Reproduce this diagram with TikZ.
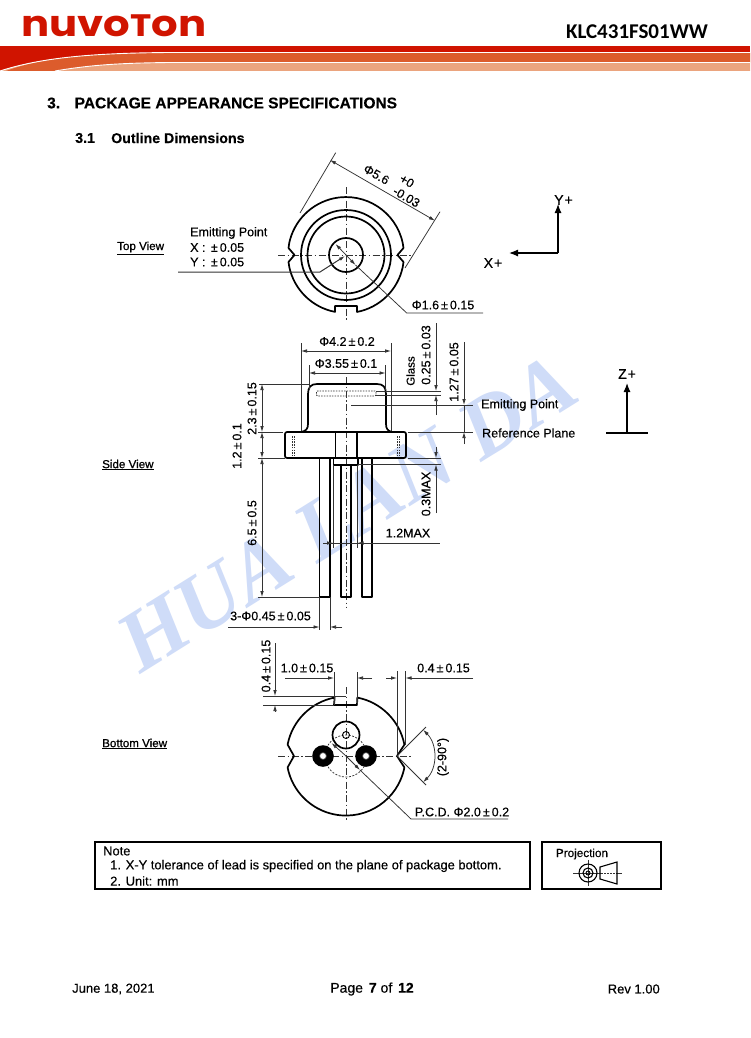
\documentclass[tikz,border=0pt]{standalone}
\usepackage{fontspec}
\setmainfont{Liberation Sans}[RawFeature={embolden=0.35}]
\newfontfamily\viewfont{Liberation Sans}[RawFeature={embolden=0.9}]
\newfontfamily\logofont{Poppins}[BoldFont=Poppins Bold]
\newfontfamily\headfont{Carlito}
\newfontfamily\wmfont{Liberation Serif}
\usetikzlibrary{arrows.meta}
\definecolor{nred}{HTML}{D01400}
\definecolor{norange}{HTML}{DC5C2C}
\definecolor{nlight}{HTML}{EBA47E}
\definecolor{wmblue}{HTML}{CFDCF8}
\definecolor{thinc}{HTML}{333333}
\newcommand{\pmx}{\kern2pt±\kern2pt}
\newcommand{\fsz}[2]{\fontsize{#1}{#2}\selectfont}
\tikzset{
  x=1pt,y=-1pt,
  tip/.style={-{Latex[length=6pt,width=3.6pt]}},
  bothtip/.style={{Latex[length=6pt,width=3.6pt]}-{Latex[length=6pt,width=3.6pt]}},
  bold/.style={draw=black,line width=1.7pt,line join=round},
  thinl/.style={draw=thinc,line width=0.75pt},
  centerl/.style={draw=thinc,line width=0.8pt,dash pattern=on 7pt off 2.5pt on 1.5pt off 2.5pt},
  dotl/.style={draw=thinc,line width=0.9pt,dash pattern=on 1.5pt off 1.2pt},
  lab/.style={inner sep=0pt,font=\fsz{12.5}{14},text=black},
  labl/.style={lab,anchor=west},
  view/.style={labl,font=\viewfont\fsz{11.6}{13}},
  axis/.style={draw=black,line width=1.2pt},
  axtip/.style={-{Latex[length=9pt,width=7pt]}},
}
\begin{document}
\begin{tikzpicture}
\useasboundingbox (0,0) rectangle (750,1038);
\fill[white] (0,0) rectangle (750,1038);
% watermark
\node (wm) [inner sep=0pt,rotate=32,text=wmblue,font=\wmfont\fsz{86}{90}\bfseries\itshape] at (347,513) {HUA LAN DA};
% header
\node (logo) [inner sep=0pt,anchor=west,text=nred,font=\logofont\fsz{36}{36}\bfseries,xscale=1.16] at (21,26) {nuvo{\fsz{31}{31}T}on};
\node (part) [inner sep=0pt,anchor=east,font=\headfont\fsz{21}{24}\bfseries] at (708,32) {KLC431FS01WW};
\fill[nred] (0,46) rectangle (750,71);
\fill[nlight] (0,71) .. controls (40,58) and (90,53) .. (170,53) -- (750,53) -- (750,71) -- cycle;
\fill[norange] (6,71) .. controls (40,58) and (90,53) .. (170,53) -- (750,53) -- (750,62.5) -- (170,62.5) .. controls (120,63) and (90,65) .. (55,71) -- cycle;
\draw[white,line width=0.9pt] (0,71) .. controls (40,58) and (90,53) .. (170,52.5) -- (750,52.5);
\draw[white,line width=0.9pt] (55,71) .. controls (90,65) and (120,63) .. (170,62.5) -- (750,62.5);
\fill[white] (0,71) rectangle (750,74);
% headings
\node (h3n) [labl,font=\fsz{15.5}{18}\bfseries] at (47,103) {3.};
\node (h3) [labl,font=\fsz{15.5}{18}\bfseries] at (74.5,103) {PACKAGE APPEARANCE SPECIFICATIONS};
\node (h31n) [labl,font=\fsz{14.2}{16}\bfseries] at (75,138) {3.1};
\node (h31) [labl,font=\fsz{14.2}{16}\bfseries] at (111,138) {Outline Dimensions};
\node (tv) [view] at (117,248) {\underline{Top View}};
\node (sv) [view] at (102,465) {\underline{Side View}};
\node (bv) [view] at (102,744) {\underline{Bottom View}};
% ---------- top view
\draw[centerl] (278,255) -- (413,255);
\draw[centerl] (346,187) -- (346,322);
\draw[bold] (346,255)++(79:58) arc[start angle=79,end angle=12,radius=58]
  -- (403.5,262) -- (397.5,255) -- (403.5,248) -- (402.7,243)
  arc[start angle=-12,end angle=-168,radius=58]
  -- (288.5,248) -- (294.5,255) -- (288.5,262) -- (289.3,267)
  arc[start angle=168,end angle=101,radius=58]
  -- (335,306) -- (357,306) -- cycle;
\draw[bold] (346,255) circle[radius=45];
\draw[bold] (346,255) circle[radius=38.5];
\draw[bold] (346,255) circle[radius=17];
% phi 5.6
\draw[thinl] (335.7,152.7) -- (300,213);
\draw[thinl] (440,211.7) -- (405,268);
\draw[thinl,bothtip] (330,160) -- (435,220.7);
\node (d56) [lab,rotate=-30] at (376.5,174.5) {Φ5.6};
\node (d56a) [lab,rotate=-30] at (407,181) {+0};
\node (d56b) [lab,rotate=-30] at (406.5,197) {-0.03};
% emitting point note
\node (ep0) [labl] at (190,233) {Emitting Point};
\node (ep1) [labl] at (190,247.5) {X : \pmx0.05};
\node (ep2) [labl] at (190,262) {Y : \pmx0.05};
\draw[thinl,line width=1pt,tip] (178,272) -- (320,272) -- (345,256);
% phi 1.6
\coordinate (l16a) at (335.5,244);
\coordinate (l16b) at (406.7,313);
\draw[thinl,tip] (346,255) -- (l16a);
\draw[thinl,tip] (346,255) -- (355.5,265);
\draw[thinl] (355.5,265) -- (l16b) -- (483,313);
\node (d16) [lab] at (443,305) {Φ1.6\pmx0.15};
% XY axes
\draw[axis,axtip] (558,253) -- (558,204);
\draw[axis,axtip] (558,253) -- (509,253);
\node (yp) [lab,font=\fsz{14}{15}] at (563.5,200) {Y\kern1pt+};
\node (xp) [lab,font=\fsz{14}{15}] at (493,263) {X\kern1pt+};
% Z axis
\draw[axis,axtip] (627,433) -- (627,383);
\draw[axis] (606,433) -- (648,433);
\node (zp) [lab,font=\fsz{14}{15}] at (627,374) {Z\kern1pt+};
% ---------- side view
\draw[centerl] (346,377) -- (346,607);
\draw[bold,rounded corners=0pt] (301,432) .. controls (306,431) and (308,429) .. (308,424) -- (308,394)
  .. controls (308,387) and (311,384) .. (317,384) -- (377,384)
  .. controls (383,384) and (386,387) .. (386,394) -- (386,424) .. controls (386,429) and (388,431) .. (392,432);
\draw[bold,rounded corners=2pt] (285,458) -- (285,432) -- (406,432) -- (406,458) -- cycle;
\draw[bold] (335.5,432) rectangle (357,458);
\draw[bold] (333.5,458) rectangle (358,465);
\draw[bold] (319.5,458) -- (319.5,597) -- (330,597) -- (330,458);
\draw[bold] (341,465) -- (341,597) -- (351,597) -- (351,465);
\draw[bold] (362,458) -- (362,597) -- (372,597) -- (372,458);
\draw[dotl,rounded corners=1pt] (316.5,391) rectangle (376,396);
\draw[dotl] (292.5,436) -- (292.5,457);
\draw[dotl] (294.5,436) -- (294.5,457);
\draw[dotl] (397,436) -- (397,457);
\draw[dotl] (399,436) -- (399,457);
% top dims
\draw[thinl] (301,343) -- (301,431);
\draw[thinl] (391,343) -- (391,431);
\draw[thinl,bothtip] (301,351) -- (391,351);
\node (d42) [lab] at (347,341.5) {Φ4.2\pmx0.2};
\draw[thinl] (309,365) -- (309,390);
\draw[thinl] (385.5,365) -- (385.5,390);
\draw[thinl,bothtip] (309,373) -- (385.5,373);
\node (d355) [lab] at (346,363.5) {Φ3.55\pmx0.1};
% glass
\draw[thinl] (376,391) -- (441,391);
\draw[thinl] (376,395) -- (441,395);
\draw[thinl,tip] (436,323) -- (436,391);
\draw[thinl,tip] (436,415) -- (436,395);
\node (gl) [lab,rotate=90,font=\fsz{11.5}{13}] at (410.5,371) {Glass};
\node (d025) [lab,rotate=90] at (426,355) {0.25\pmx0.03};
% 1.27
\draw[thinl,tip] (464,342) -- (464,405);
\draw[thinl,tip] (464,444) -- (464,432);
\draw[thinl] (464,405) -- (464,432);
\draw[thinl] (351,405) -- (473,405);
\draw[thinl] (408,432) -- (473,432);
\node (d127) [lab,rotate=90] at (454,372) {1.27\pmx0.05};
\node (ep) [labl] at (481,405) {Emitting Point};
\node (rp) [labl] at (482,433) {Reference Plane};
% left dims
\draw[thinl] (259,384) -- (310,384);
\draw[thinl] (258,432) -- (283,432);
\draw[thinl] (258,458) -- (285,458);
\draw[thinl] (258,597) -- (320,597);
\draw[thinl,bothtip] (262,384) -- (262,432);
\draw[thinl,bothtip] (262,432) -- (262,458);
\draw[thinl,bothtip] (262,458) -- (262,597);
\node (d23) [lab,rotate=90] at (252,408.5) {2.3\pmx0.15};
\node (d12) [lab,rotate=90] at (237,446) {1.2\pmx0.1};
\node (d65) [lab,rotate=90] at (252,523) {6.5\pmx0.5};
% 0.3MAX
\draw[thinl] (408,458) -- (441,458);
\draw[thinl] (358,464.5) -- (441,464.5);
\draw[thinl,tip] (436,447) -- (436,458);
\draw[thinl,tip] (436,513) -- (436,464.5);
\node (d03) [lab,rotate=90] at (426,494) {0.3MAX};
% 1.2MAX
\draw[thinl] (333,465) -- (333,548);
\draw[thinl] (357.5,465) -- (357.5,548);
\draw[thinl] (323,543) -- (440,543);
\draw[thinl,tip] (323,543) -- (333,543);
\draw[thinl,tip] (366,543) -- (357.5,543);
\node (d12m) [lab] at (408,533) {1.2MAX};
% 3-phi
\draw[thinl] (319.5,597) -- (319.5,630);
\draw[thinl] (330,597) -- (330,630);
\draw[thinl,tip] (228,627) -- (319.5,627);
\draw[thinl,tip] (342,627) -- (330,627);
\node (d045) [labl] at (230,616) {3-Φ0.45\pmx0.05};
% ---------- bottom view
\draw[centerl] (278,756) -- (413,756);
\draw[centerl] (346,687) -- (346,822);
\draw[bold] (346,756)++(-79:59.5) arc[start angle=-79,end angle=-11,radius=59.5]
  -- (397,756) -- (404.4,767.4)
  arc[start angle=11,end angle=169,radius=59.5]
  -- (294,756) -- (287.6,744.6)
  arc[start angle=191,end angle=259,radius=59.5]
  -- (334,705) -- (357,705) -- cycle;
\draw[thinl,dash pattern=on 2pt off 1.5pt] (346,756) circle[radius=21];
\draw[bold] (346,735) circle[radius=13.5];
\draw[line width=0.9pt] (346,735) circle[radius=3.5];
\fill[black] (323,756) circle[radius=10.8];
\fill[black] (366,756) circle[radius=10.8];
\fill[white] (323,756) circle[radius=3.5];
\fill[white] (366,756) circle[radius=3.5];
\draw[thinl] (323,756) circle[radius=3.5];
\draw[thinl] (366,756) circle[radius=3.5];
% bottom dims
\draw[thinl] (263,696) -- (346,696);
\draw[thinl] (263,705) -- (334,705);
\draw[thinl,tip] (275,643) -- (275,696);
\draw[thinl,tip] (275,711) -- (275,705);
\node (db1) [lab,rotate=90] at (266,666) {0.4\pmx0.15};
\draw[thinl] (334,672) -- (334,705);
\draw[thinl] (357,672) -- (357,705);
\draw[thinl,tip] (285,678) -- (334,678);
\draw[thinl,tip] (372,678) -- (357,678);
\node (db2) [lab] at (307,668) {1.0\pmx0.15};
\draw[thinl] (397,671) -- (397,754);
\draw[thinl] (405.5,671) -- (405.5,745);
\draw[thinl,tip] (386,678) -- (397,678);
\draw[thinl,tip] (473,678) -- (405.5,678);
\node (db3) [lab] at (443.5,668) {0.4\pmx0.15};
% angle
\draw[thinl] (397,756) -- (426,727);
\draw[thinl] (397,756) -- (426,785);
\draw[thinl,bothtip] (397,756)++(-45:37) arc[start angle=-45,end angle=45,radius=37];
\node (dang) [lab,rotate=90] at (443,757) {(2-90°)};
% PCD
\draw[thinl,tip] (346,756) -- (331.5,743);
\draw[thinl,tip] (346,756) -- (360,770);
\draw[thinl] (360,770) -- (411,819) -- (508,819);
\node (dpcd) [lab] at (462,812) {P.C.D. Φ2.0\pmx0.2};
% note boxes
\draw[black,line width=1.4pt] (95,842) rectangle (530,889);
\node (n0) [labl,font=\fsz{12.9}{14}] at (103,851) {Note};
\node (n1) [labl,font=\fsz{12.9}{14}] at (110,866) {1. X-Y tolerance of lead is specified on the plane of package bottom.};
\node (n2) [labl,font=\fsz{12.9}{14}] at (110,881) {2. Unit: mm};
\draw[black,line width=1.4pt] (542,842) rectangle (661,889);
\node (pj) [lab,font=\fsz{11.7}{13}] at (582,854) {Projection};
\draw[thinl] (573,873) -- (622,873);
\draw[thinl] (588,860) -- (588,886);
\draw[black,line width=1.1pt] (588,873) circle[radius=9];
\draw[black,line width=1.1pt] (588,873) circle[radius=5];
\draw[black,line width=0.9pt] (588,873) circle[radius=2];
\fill[white] (601,868) rectangle (616,878);
\draw[thinl,dash pattern=on 2pt off 1pt] (601,873) -- (622,873);
\draw[black,line width=1.1pt] (600,867) -- (617,862) -- (617,884) -- (600,879) -- cycle;
% footer
\node (f1) [labl,font=\fsz{13}{15}] at (72,989) {June 18, 2021};
\node (f2) [lab,font=\fsz{14}{15}] at (372,989) {Page\kern2pt\ \textbf{7} of\kern2pt\ \textbf{12}};
\node (f3) [lab,anchor=east,font=\fsz{13}{15}] at (660,989) {Rev 1.00};
\end{tikzpicture}
\end{document}
